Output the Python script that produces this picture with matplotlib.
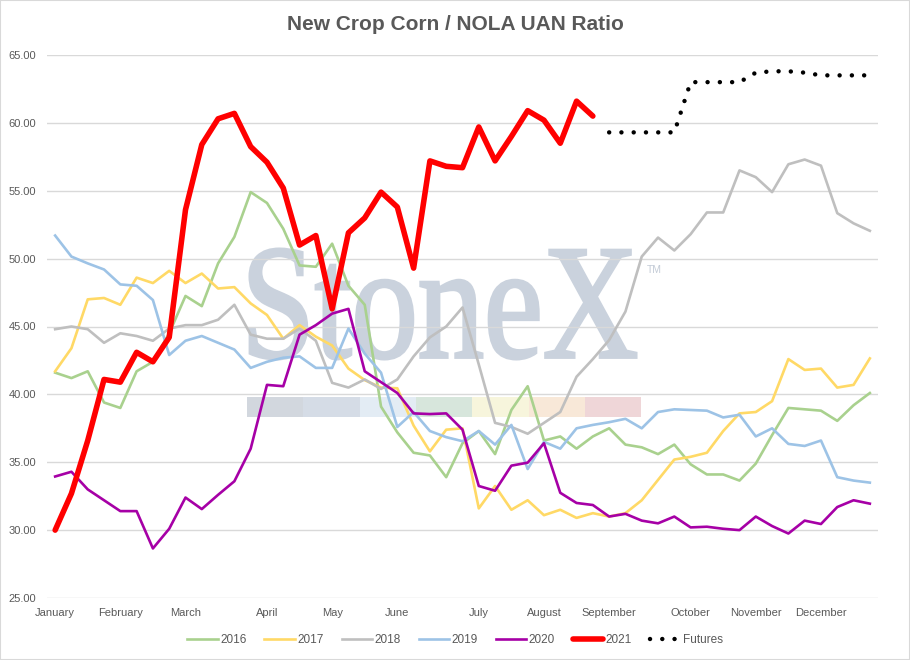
import numpy as np
import matplotlib
matplotlib.use("Agg")
import matplotlib.pyplot as plt
from matplotlib.patches import PathPatch, Rectangle
from matplotlib.textpath import TextPath
from matplotlib.font_manager import FontProperties
from matplotlib.transforms import Affine2D, IdentityTransform

# weekly ratio values, one point per week (51 weeks)
months = ["January", "February", "March", "April", "May", "June", "July",
          "August", "September", "October", "November", "December"]
month_weeks = [0, 4, 8, 13, 17, 21, 26, 30, 34, 39, 43, 47]

y2016 = [41.6, 41.2, 41.7, 39.4, 39.0, 41.7, 42.4, 44.5, 47.25, 46.5,
         49.65, 51.6, 54.9, 54.1, 52.2, 49.5, 49.4, 51.1, 48.0, 46.6,
         39.1, 37.2, 35.7, 35.5, 33.9, 36.4, 37.3, 35.6, 38.85, 40.6,
         36.6, 36.9, 36.0, 36.9, 37.5, 36.3, 36.1, 35.6, 36.3, 34.85,
         34.1, 34.1, 33.65, 34.9, 37.0, 39.0, 38.9, 38.8, 38.05, 39.2, 40.1]
y2017 = [41.7, 43.4, 47.0, 47.1, 46.6, 48.6, 48.2, 49.1, 48.2, 48.9,
         47.8, 47.9, 46.7, 45.85, 44.1, 45.1, 44.25, 43.6, 41.9, 41.05,
         40.5, 40.45, 37.7, 35.8, 37.4, 37.5, 31.6, 33.25, 31.5, 32.2,
         31.1, 31.5, 30.9, 31.25, 31.0, 31.25, 32.2, 33.7, 35.2, 35.4,
         35.7, 37.3, 38.6, 38.7, 39.5, 42.6, 41.8, 41.9, 40.5, 40.7, 42.65]
y2018 = [44.8, 45.0, 44.8, 43.8, 44.5, 44.3, 43.95, 44.85, 45.1, 45.1,
         45.5, 46.6, 44.4, 44.1, 44.1, 44.85, 43.95, 40.85, 40.5, 41.1,
         40.4, 41.1, 42.8, 44.2, 45.0, 46.4, 42.2, 37.9, 37.6, 37.1,
         37.9, 38.7, 41.3, 42.6, 44.0, 46.1, 50.15, 51.55, 50.6, 51.8,
         53.4, 53.4, 56.5, 56.0, 54.9, 56.95, 57.3, 56.85, 53.35, 52.6, 52.05]
y2019 = [51.7, 50.15, 49.65, 49.2, 48.1, 48.0, 46.95, 42.9, 43.95, 44.3,
         43.8, 43.3, 41.95, 42.4, 42.7, 42.8, 41.95, 41.95, 44.85, 43.0,
         41.6, 37.6, 38.7, 37.3, 36.85, 36.55, 37.3, 36.3, 37.75, 34.5,
         36.5, 36.0, 37.5, 37.75, 37.95, 38.2, 37.5, 38.7, 38.9, 38.85,
         38.8, 38.3, 38.5, 36.9, 37.5, 36.35, 36.2, 36.6, 33.9, 33.65, 33.5]
y2020 = [33.95, 34.3, 33.0, 32.2, 31.4, 31.4, 28.65, 30.1, 32.4, 31.55,
         32.6, 33.6, 36.0, 40.7, 40.6, 44.4, 45.1, 45.95, 46.3, 41.7,
         40.9, 40.1, 38.6, 38.55, 38.6, 37.4, 33.25, 32.9, 34.75, 34.97,
         36.4, 32.75, 32.0, 31.85, 31.0, 31.2, 30.7, 30.5, 31.0, 30.2,
         30.25, 30.1, 30.0, 31.0, 30.3, 29.75, 30.7, 30.45, 31.7, 32.2, 31.95]
y2021 = [30.0, 32.7, 36.6, 41.1, 40.9, 43.1, 42.4, 44.2, 53.6, 58.4,
         60.3, 60.7, 58.25, 57.1, 55.2, 51.0, 51.7, 46.3, 51.9, 53.0,
         54.9, 53.8, 49.3, 57.2, 56.8, 56.7, 59.7, 57.2, 59.0, 60.9,
         60.2, 58.5, 61.6, 60.5]
futures = [59.3, 59.3, 59.3, 59.3, 59.3, 63.0, 63.0, 63.0, 63.0, 63.7,
           63.8, 63.8, 63.7, 63.5, 63.5, 63.5, 63.5]

weeks = np.arange(len(y2016))
fut_weeks = np.arange(len(y2021), len(y2021) + len(futures))

txt = "#595959"
fig = plt.figure(figsize=(9.1, 6.6), dpi=100)
ax = fig.add_axes([47 / 910, 62 / 660, 831 / 910, 543 / 660])

# StoneX watermark (pixel coords)
tp = TextPath((0, 0), "StoneX", size=1, prop=FontProperties(family="Liberation Serif"))
bb = tp.get_extents()
tr = Affine2D().translate(-bb.x0, -bb.y0).scale(386 / bb.width, 110 / bb.height).translate(250, 301)
ax.add_patch(PathPatch(tr.transform_path(tp), transform=IdentityTransform(),
                       facecolor="#cad2dd", edgecolor="#cad2dd", lw=2.2,
                       zorder=0.2, clip_on=False))
fig.text(647 / 910, 1 - 273 / 660, "TM", fontsize=7.5, color="#c3cbd6", family="Liberation Sans")
band = ["#d2d7de", "#d5dce6", "#e3ecf4", "#d7e6dc", "#f7f5dc", "#f8e8d8", "#efd6d8"]
for i, c in enumerate(band):
    ax.add_patch(Rectangle((247 + i * 56.3, 243), 56.3, 20, transform=IdentityTransform(),
                           facecolor=c, edgecolor="none", zorder=0.2, clip_on=False))

ax.plot(weeks, y2016, color="#a9d18e", lw=1.9, label="2016")
ax.plot(weeks, y2017, color="#ffd966", lw=1.9, label="2017")
ax.plot(weeks, y2018, color="#bfbfbf", lw=1.9, label="2018")
ax.plot(weeks, y2019, color="#9dc3e6", lw=1.9, label="2019")
ax.plot(weeks, y2020, color="#a600a6", lw=1.9, label="2020")
ax.plot(weeks[:len(y2021)], y2021, color="#ff0000", lw=4.0, label="2021",
        solid_joinstyle="round", solid_capstyle="round")
ax.plot(fut_weeks, futures, color="black", lw=3.2, linestyle=(0, (0.01, 2.75)),
        dash_capstyle="round", label="Futures")

ax.set_xlim(-0.5, len(weeks) - 0.5)
ax.set_ylim(25, 65)
ax.set_yticks(np.arange(25, 66, 5))
ax.set_yticklabels([f"{v:.2f}" for v in np.arange(25, 66, 5)])
ax.set_xticks(month_weeks)
ax.set_xticklabels(months)
ax.tick_params(length=0, labelsize=8, labelcolor=txt)
ax.tick_params(axis="y", pad=8)
ax.tick_params(axis="x", pad=7)
for lab in ax.get_xticklabels() + ax.get_yticklabels():
    lab.set_family("Liberation Sans")
ax.grid(axis="y", color="#d9d9d9", lw=1)
ax.set_axisbelow(True)
for s in ax.spines.values():
    s.set_visible(False)

fig.text(0.5, 1 - 25 / 660, "New Crop Corn / NOLA UAN Ratio", ha="center", va="center",
         fontsize=15, fontweight="bold", color=txt, family="Liberation Sans")
leg = fig.legend(loc="center", bbox_to_anchor=(0.5, 1 - 640 / 660), ncol=7, frameon=False,
                 handlelength=2.6, columnspacing=1.5, handletextpad=0.2,
                 prop=FontProperties(family="Liberation Sans", size=8.5))
for t in leg.get_texts():
    t.set_color(txt)

fig.patches.append(Rectangle((0, 0), 1, 1, transform=fig.transFigure, fill=False,
                             edgecolor="#d9d9d9", lw=1.5))
fig.savefig("out.png", dpi=100)
